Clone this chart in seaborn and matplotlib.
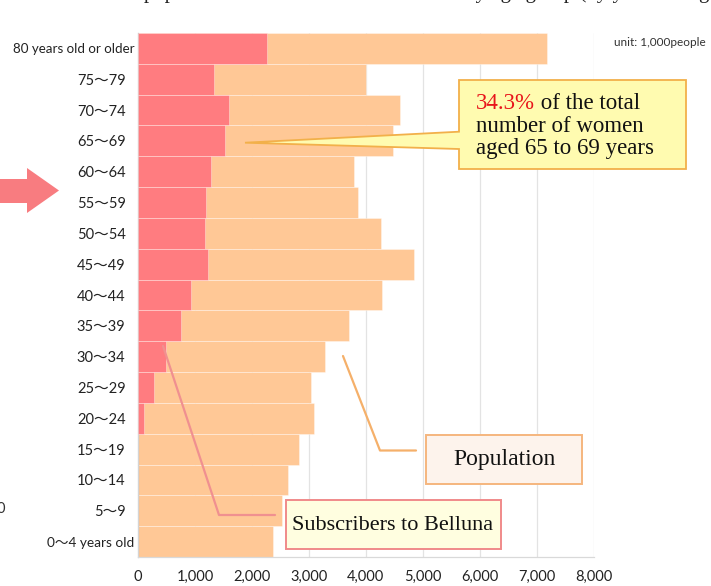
import matplotlib
matplotlib.use("Agg")
import matplotlib.pyplot as plt
from matplotlib.patches import Polygon, Rectangle
from matplotlib.lines import Line2D
from matplotlib.transforms import ScaledTranslation
import seaborn as sns
import pandas as pd

# Age groups, oldest first (top row of the chart)
age_groups = ["80 years old or older", "75〜79", "70〜74", "65〜69", "60〜64",
              "55〜59", "50〜54", "45〜49", "40〜44", "35〜39", "30〜34",
              "25〜29", "20〜24", "15〜19", "10〜14", "5〜9", "0〜4 years old"]
# Female population (unit: 1,000 people)
population = [7190, 4000, 4610, 4475, 3790, 3860, 4260, 4840, 4280, 3710,
              3290, 3030, 3090, 2830, 2630, 2530, 2370]
# Subscribers to Belluna (unit: 1,000 people)
subscribers = [2260, 1330, 1600, 1535, 1275, 1195, 1175, 1235, 930, 750,
               490, 285, 105, 0, 0, 0, 0]
x_ticks = [0, 1000, 2000, 3000, 4000, 5000, 6000, 7000, 8000]

df = pd.DataFrame({"age": age_groups, "population": population,
                   "subscribers": subscribers})

PEACH = "#FFC896"
PINK = "#FF7C80"
W, H = 711, 586

sns.set_theme(style="white")
plt.rcParams["font.family"] = ["Lato", "Noto Sans CJK JP", "DejaVu Sans"]

fig = plt.figure(figsize=(W / 100, H / 100), dpi=100)
ax = fig.add_axes([138 / W, 1 - 557 / H, (593.5 - 138) / W, (557 - 33) / H])


def px(x, y):
    return (x / W, 1 - y / H)


sep = (1, 1, 1, 0.4)
sns.barplot(data=df, y="age", x="population", order=age_groups, color=PEACH,
            saturation=1, width=1.0, orient="h", edgecolor=sep, linewidth=0.6,
            ax=ax, zorder=2)
sns.barplot(data=df, y="age", x="subscribers", order=age_groups, color=PINK,
            saturation=1, width=1.0, orient="h", edgecolor=sep, linewidth=0.6,
            ax=ax, zorder=3)

ax.set_xlim(0, 8000)
ax.set_ylim(len(age_groups) - 0.5, -0.5)
ax.set_xlabel("")
ax.set_ylabel("")
ax.set_xticks(x_ticks)
ax.set_xticklabels([f"{v:,}" for v in x_ticks])
ax.grid(axis="x", color="#E3E3E3", linewidth=0.9)
ax.grid(axis="y", visible=False)
ax.set_axisbelow(True)

for side in ("top", "right"):
    ax.spines[side].set_visible(False)
ax.spines["left"].set_color("#BFBFBF")
ax.spines["bottom"].set_color("#D9D9D9")
ax.spines["left"].set_linewidth(0.9)
ax.spines["bottom"].set_linewidth(0.9)

ax.tick_params(axis="x", length=0, pad=9.5, labelsize=10.5, labelcolor="#222222")
ax.tick_params(axis="y", which="major", length=0, pad=2.5, labelsize=10.5,
               labelcolor="#222222")
ax.set_yticks([i - 0.5 for i in range(1, len(age_groups))], minor=True)
ax.tick_params(axis="y", which="minor", length=4, width=0.8, color="#BFBFBF",
               direction="out")

# short range labels sit a little further left than the long ones
long_sizes = {"80 years old or older": 9.6, "0〜4 years old": 9.8}
for lab in ax.get_yticklabels():
    txt = lab.get_text()
    if txt in long_sizes:
        lab.set_fontsize(long_sizes[txt])
    else:
        lab.set_transform(lab.get_transform() +
                          ScaledTranslation(-9 / 100, 0, fig.dpi_scale_trans))

# unit note and clipped heading line
fig.text(706 / W, 1 - 43 / H, "unit: 1,000people", ha="right", va="center",
         fontsize=8.5, color="#333333")
fig.text(0.48, 1 + 2 / H,
         "Comparison of female population and number of subscribers by age group (by year and age),",
         ha="center", va="baseline", fontsize=15, family="Liberation Serif",
         color="#222222")
fig.text(1 / W, 1 - 509 / H, "0", ha="center", va="center", fontsize=10.5,
         color="#333333")

# pink arrow on the left margin
arrow_pts = [px(0, 179), px(27, 179), px(27, 168), px(59, 190.5),
             px(27, 213), px(27, 203), px(0, 203)]
fig.patches.append(Polygon(arrow_pts, closed=True, transform=fig.transFigure,
                           facecolor="#F87C80", edgecolor="none"))

# yellow callout with a wedge pointing at the 65-69 row
call = [px(459, 80), px(686, 80), px(686, 169), px(459, 169), px(459, 149),
        px(245, 142.7), px(459, 131.7)]
fig.patches.append(Polygon(call, closed=True, transform=fig.transFigure,
                           facecolor="#FFFBB0", edgecolor="#F2B04A",
                           linewidth=1.3, zorder=5))
serif = "Liberation Serif"
fs = 16.5
t1 = fig.text(476 / W, 1 - 109 / H, "34.3%", ha="left", va="baseline",
              fontsize=fs, family=serif, color="#E8141B", zorder=6)
fig.canvas.draw()
bb = t1.get_window_extent(renderer=fig.canvas.get_renderer())
fig.text(bb.x1 / W, 1 - 109 / H, " of the total", ha="left", va="baseline",
         fontsize=fs, family=serif, color="#111111", zorder=6)
fig.text(476 / W, 1 - 131.5 / H, "number of women", ha="left", va="baseline",
         fontsize=fs, family=serif, color="#111111", zorder=6)
fig.text(476 / W, 1 - 153.5 / H, "aged 65 to 69 years", ha="left",
         va="baseline", fontsize=fs, family=serif, color="#111111", zorder=6)

# "Population" label box with leader line
fig.lines.append(Line2D([343 / W, 380 / W, 416 / W],
                        [1 - 356 / H, 1 - 450.5 / H, 1 - 450.5 / H],
                        transform=fig.transFigure, color="#F5B06A",
                        linewidth=1.6, zorder=5))
fig.patches.append(Rectangle(px(426, 484), (581.5 - 426) / W, (484 - 435) / H,
                             transform=fig.transFigure, facecolor="#FDF3EC",
                             edgecolor="#F5B67E", linewidth=1.4, zorder=5))
fig.text(504 / W, 1 - 460 / H, "Population", ha="center", va="center",
         fontsize=17, family=serif, color="#111111", zorder=6)

# "Subscribers to Belluna" label box with leader line
fig.lines.append(Line2D([163 / W, 219 / W, 275 / W],
                        [1 - 346 / H, 1 - 515 / H, 1 - 515 / H],
                        transform=fig.transFigure, color="#F09090",
                        linewidth=1.6, zorder=5))
fig.patches.append(Rectangle(px(285.5, 549), (500.5 - 285.5) / W, (549 - 500) / H,
                             transform=fig.transFigure, facecolor="#FFFEE0",
                             edgecolor="#F08A8A", linewidth=1.4, zorder=5))
fig.text(393 / W, 1 - 525 / H, "Subscribers to Belluna", ha="center",
         va="center", fontsize=16, family=serif, color="#111111", zorder=6)

fig.savefig("out.png", dpi=100)
